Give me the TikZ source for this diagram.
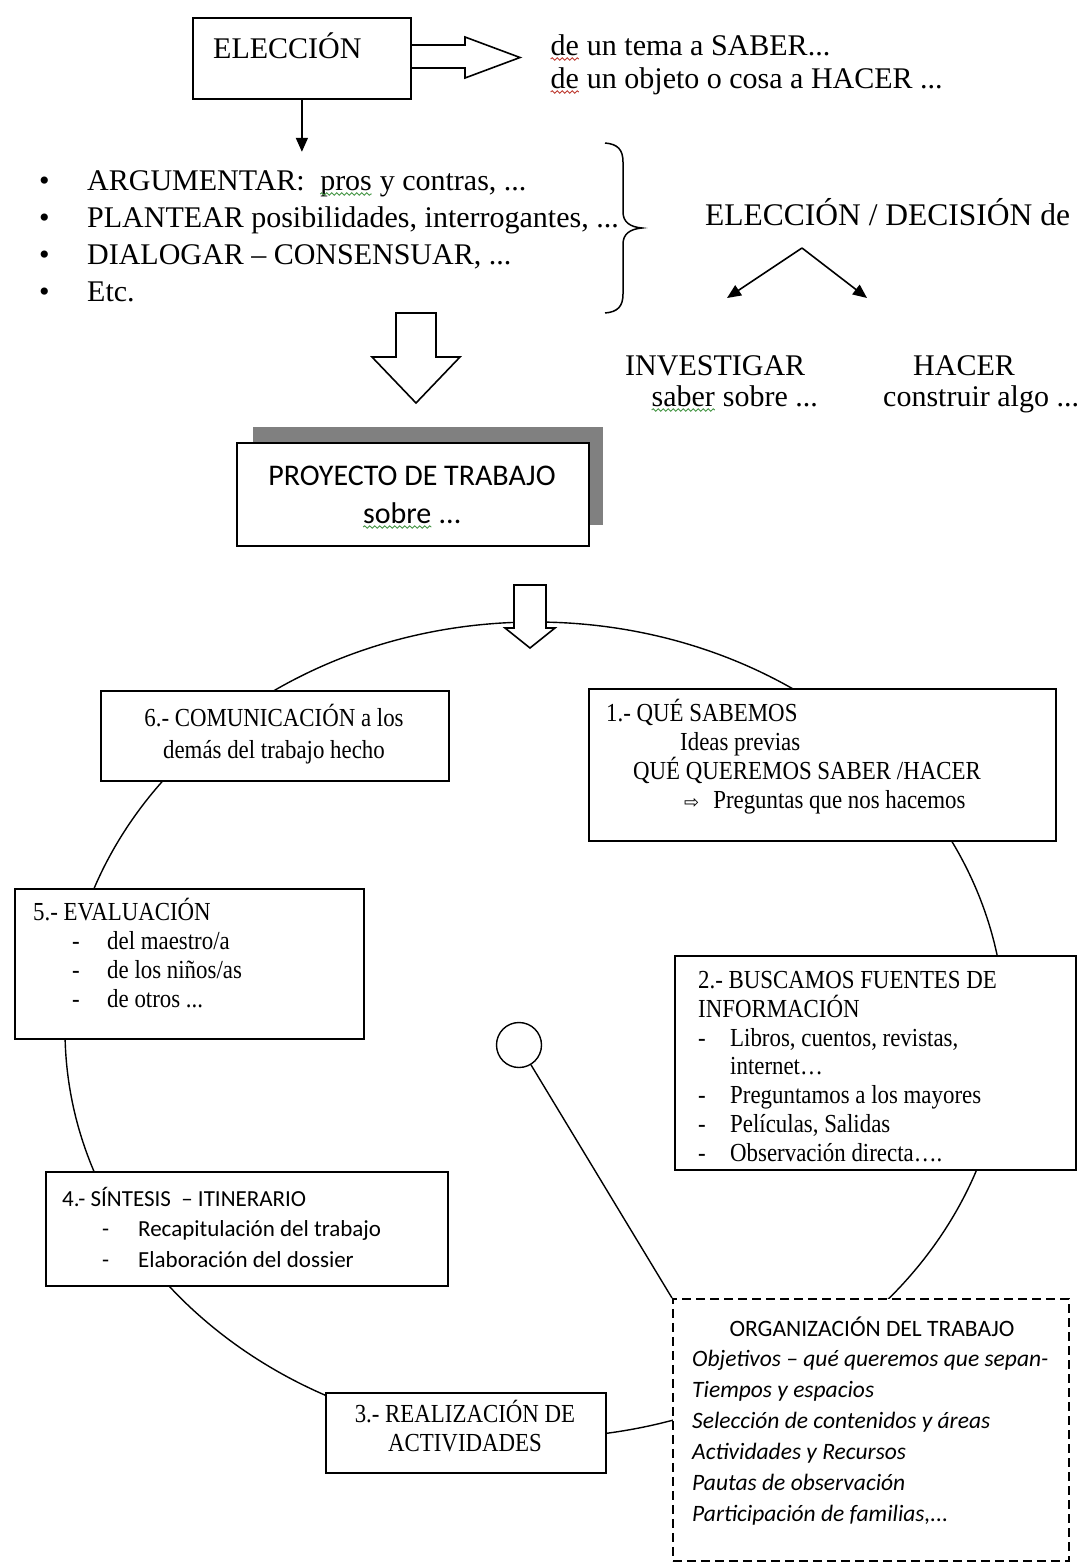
\documentclass[tikz,border=0pt]{standalone}
\usepackage{fontspec}
\setmainfont{Liberation Serif}
\newfontfamily\calibri{Carlito}
\newfontfamily\narrowrm[FakeStretch=0.88]{Liberation Serif}
\newfontfamily\symfont{DejaVu Sans}
\usetikzlibrary{arrows.meta,decorations.pathmorphing}

\definecolor{spellred}{RGB}{190,60,50}
\definecolor{spellgreen}{RGB}{70,150,70}
\definecolor{shadowgray}{RGB}{128,128,128}

% word with a wavy spell-check line under it
\newcommand\squig[2]{\tikz[baseline=(w.base)]{\node[inner sep=0pt,outer sep=0pt] (w) {#2};
  \draw[#1,line width=0.9pt,decorate,decoration={snake,amplitude=1.2pt,segment length=5pt}]
    ([yshift=-4pt]w.base west) -- ([yshift=-4pt]w.base east);}}

\newcommand\topfont{\fontsize{30}{37}\selectfont}
\newcommand\boxfont{\narrowrm\fontsize{26}{29}\selectfont}
\newcommand\calfont{\calibri\fontsize{23}{30.5}\selectfont}

\begin{document}
\begin{tikzpicture}[x=1pt,y=-1pt,
  box/.style={draw,line width=1.8pt,fill=white,inner sep=0pt,anchor=north west},
  txt/.style={inner sep=0pt,anchor=base west,align=left},
  ctxt/.style={inner sep=0pt,anchor=base,align=center},
  hollow/.style={draw,line width=1.6pt,fill=white,line join=miter},
  tip/.style={line width=1.6pt,-{Triangle[length=14pt,width=12pt]}}]
\useasboundingbox (0,0) rectangle (1078,1564);

% the cycle behind the boxes
\draw[line width=1.4pt] (535,1030) ellipse [x radius=470, y radius=408];

% eleccion (multi-line labels are placed by the baseline of their last line)
\node[box,minimum width=218pt,minimum height=81pt] (eleccion) at (192,17) {};
\node[txt,font=\topfont] (eleccionlbl) at (213,58) {ELECCIÓN};
\draw[line width=1.6pt,line join=miter] (410,45) -- (465,45) -- (465,37) -- (520,57.5) -- (465,78) -- (465,68) -- (410,68);
\node[txt,font=\topfont] (tema) at (550,55) {\squig{spellred}{de} un tema a SABER...};
\node[txt,font=\topfont] (objeto) at (550,88) {\squig{spellred}{de} un objeto o cosa a HACER ...};
\draw[tip] (eleccion.south) -- ++(0,52);

\node[txt,font=\topfont] (argumentos) at (39,301) {\makebox[48pt][l]{•}ARGUMENTAR:~ \squig{spellgreen}{pros} y contras, ...\\
  \makebox[48pt][l]{•}PLANTEAR posibilidades, interrogantes, ...\\
  \makebox[48pt][l]{•}DIALOGAR – CONSENSUAR, ...\\
  \makebox[48pt][l]{•}Etc.};
\draw[line width=1.5pt] (605,143) .. controls (618,144) and (623,150) .. (623,162) -- (623,212)
  .. controls (623,222) and (630,227) .. (642,228) .. controls (630,229) and (623,234) .. (623,244)
  -- (623,294) .. controls (623,306) and (618,312) .. (605,313);

% decision
\node[txt,font=\fontsize{31.5}{37}\selectfont] (decision) at (705,225) {ELECCIÓN / DECISIÓN de};
\coordinate (apex) at (802,248);
\coordinate (invtip) at (727,298);
\coordinate (hactip) at (867,298);
\draw[tip] (apex) -- (invtip);
\draw[tip] (apex) -- (hactip);
\node[txt,font=\topfont] (investigar) at (625,375) {INVESTIGAR};
\node[txt,font=\topfont] (sabersobre) at (651,406) {\squig{spellgreen}{saber} sobre ...};
\node[txt,font=\topfont] (hacer) at (913,375) {HACER};
\node[txt,font=\topfont] (construir) at (883,406) {construir algo ...};

\draw[hollow] (396,313) -- (436,313) -- (436,357) -- (460,357) -- (416,403) -- (372,357) -- (396,357) -- cycle;

% proyecto
\fill[shadowgray] (253,427) rectangle (603,525);
\node[box,minimum width=352pt,minimum height=103pt] (proyecto) at (236,442) {};
\node[ctxt,font=\calibri\fontsize{30}{38}\selectfont] (proyectolbl) at (412,523) {PROYECTO DE TRABAJO\\\squig{spellgreen}{sobre} ...};
\draw[hollow] (514,585) -- (546,585) -- (546,628) -- (555,628) -- (530,648) -- (505,628) -- (514,628) -- cycle;

% the six steps
\node[box,minimum width=348pt,minimum height=90pt] (comunicacion) at (100,690) {};
\node[ctxt,font=\narrowrm\fontsize{26}{32}\selectfont] (comunicacionlbl) at (274,758) {6.- COMUNICACIÓN a los\\demás del trabajo hecho};

\node[box,minimum width=467pt,minimum height=152pt] (sabemos) at (588,688) {};
\node[txt,font=\boxfont] (sabemoslbl) at (606,808) {1.- QUÉ SABEMOS\\
  \hspace*{74pt}Ideas previas\\
  \hspace*{27pt}QUÉ QUEREMOS SABER /HACER\\
  \hspace*{78pt}{\symfont\fontsize{18}{18}\selectfont ⇨}\hspace*{14pt}Preguntas que nos hacemos};

\node[box,minimum width=401pt,minimum height=214pt] (fuentes) at (674,955) {};
\node[txt,font=\narrowrm\fontsize{26}{28.7}\selectfont] (fuenteslbl) at (698,1161) {2.- BUSCAMOS FUENTES DE\\
  INFORMACIÓN\\
  \makebox[32pt][l]{-}Libros, cuentos, revistas,\\
  \hspace*{32pt}internet…\\
  \makebox[32pt][l]{-}Preguntamos a los mayores\\
  \makebox[32pt][l]{-}Películas, Salidas\\
  \makebox[32pt][l]{-}Observación directa….};

\node[box,minimum width=349pt,minimum height=150pt] (evaluacion) at (14,888) {};
\node[txt,font=\boxfont] (evaluacionlbl) at (33,1007) {5.- EVALUACIÓN\\
  \hspace*{39pt}\makebox[35pt][l]{-}del maestro/a\\
  \hspace*{39pt}\makebox[35pt][l]{-}de los niños/as\\
  \hspace*{39pt}\makebox[35pt][l]{-}de otros ...};

\node[box,minimum width=402pt,minimum height=114pt] (sintesis) at (45,1171) {};
\node[txt,font=\calfont] (sintesislbl) at (62,1267) {4.- SÍNTESIS \ – ITINERARIO\\
  \hspace*{40pt}\makebox[36pt][l]{-}Recapitulación del trabajo\\
  \hspace*{40pt}\makebox[36pt][l]{-}Elaboración del dossier};

\node[box,minimum width=280pt,minimum height=80pt] (realizacion) at (325,1392) {};
\node[ctxt,font=\boxfont] (realizacionlbl) at (465,1451) {3.- REALIZACIÓN DE\\ACTIVIDADES};

% organizacion
\node[box,line width=1.5pt,dash pattern=on 9pt off 5pt,minimum width=396pt,minimum height=262pt] (organizacion) at (672,1298) {};
\node[ctxt,font=\calibri\fontsize{23.5}{31}\selectfont] (organizacionlbl) at (872,1336) {ORGANIZACIÓN DEL TRABAJO};
\node[txt,font=\calibri\itshape\fontsize{23.5}{31}\selectfont] (organizacionlist) at (692,1521) {Objetivos – qué queremos que sepan-\\
  Tiempos y espacios\\
  Selección de contenidos y áreas\\
  Actividades y Recursos\\
  Pautas de observación\\
  Participación de familias,...};

\node[circle,draw,line width=1.4pt,minimum size=45pt,inner sep=0pt] (bubble) at (519,1045) {};
\draw[line width=1.4pt] (bubble) -- (organizacion.north west);
\end{tikzpicture}
\end{document}
